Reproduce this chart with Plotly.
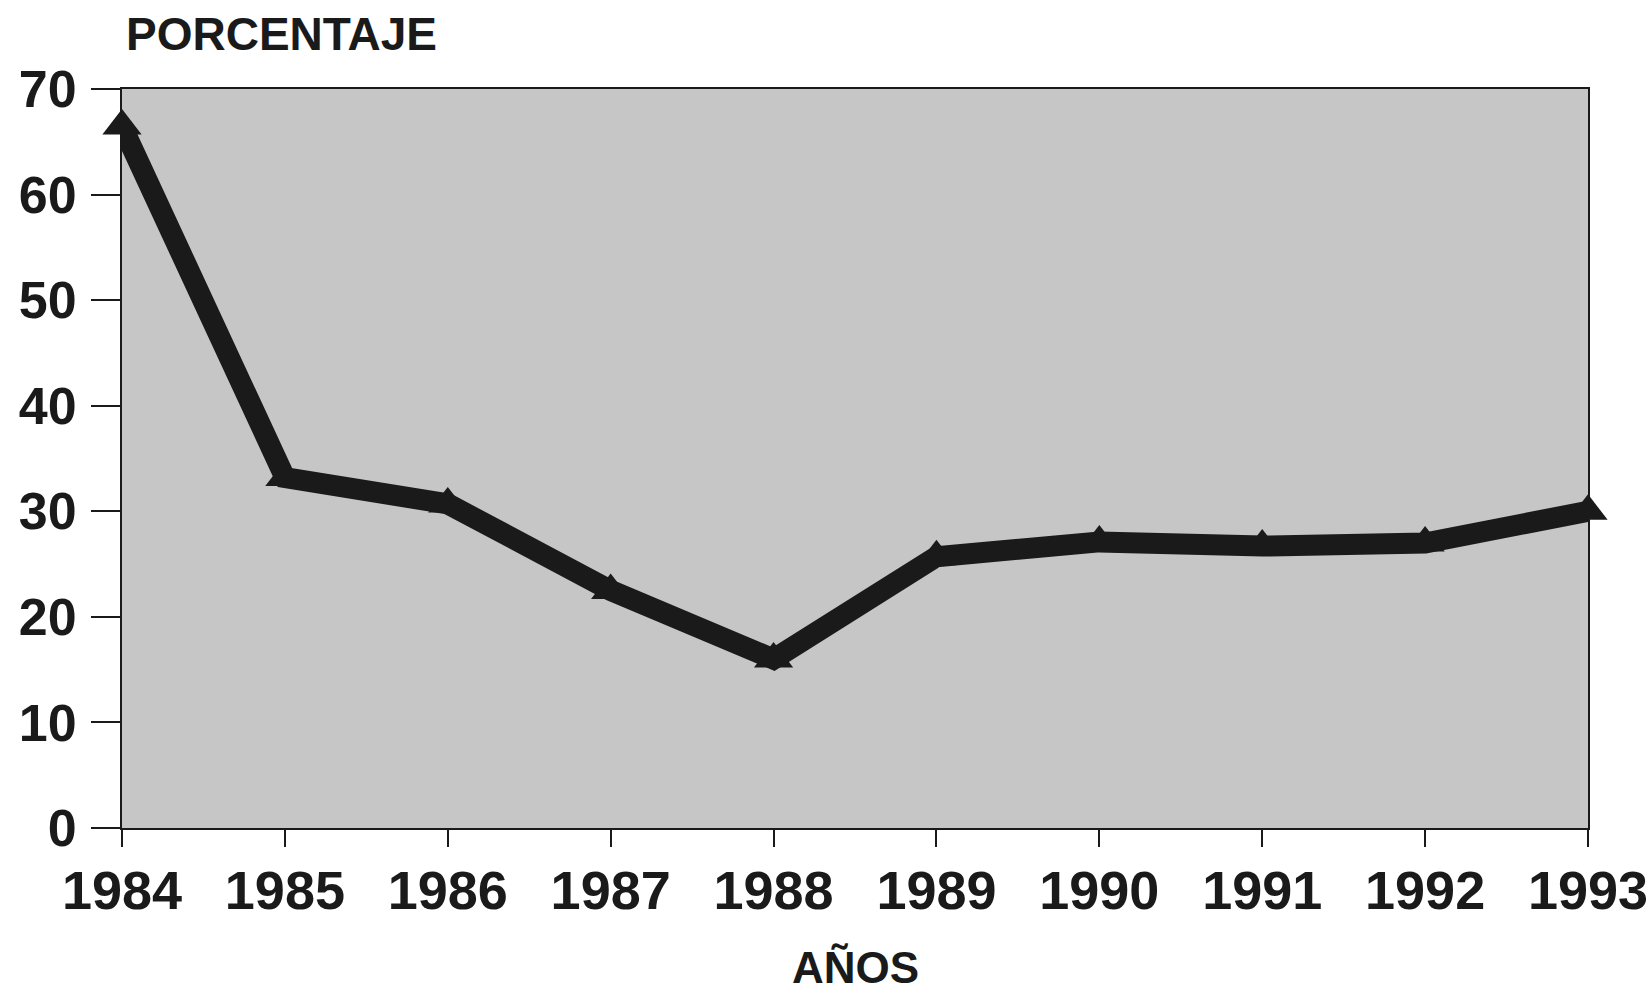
import plotly.graph_objects as go

years = [1984, 1985, 1986, 1987, 1988, 1989, 1990, 1991, 1992, 1993]
porcentaje = [66.5, 33.2, 30.7, 22.5, 16.0, 25.7, 27.1, 26.7, 27.0, 30.0]
y_ticks = [0, 10, 20, 30, 40, 50, 60, 70]

INK = "#1a1a1a"
FONT = "Liberation Sans, Arial, sans-serif"

fig = go.Figure()
fig.add_trace(go.Scatter(
    x=years, y=porcentaje, mode="lines+markers",
    line=dict(color=INK, width=21),
    marker=dict(symbol="triangle-up", size=34, color=INK),
    cliponaxis=False, showlegend=False,
))

fig.update_layout(
    width=1651, height=989,
    margin=dict(l=122, r=63, t=89, b=161),
    paper_bgcolor="white", plot_bgcolor="#c6c6c6",
    font=dict(family=FONT, color=INK),
    xaxis=dict(
        range=[years[0], years[-1]], tickvals=years, ticktext=[str(y) for y in years],
        showgrid=False, zeroline=False, showline=True, linecolor=INK, linewidth=2,
        mirror=True, ticks="outside", ticklen=17, tickwidth=2, tickcolor=INK,
        tickfont=dict(size=54, family=FONT, color=INK, weight="bold"),
        ticklabelstandoff=-3,
        automargin=False, ticklabeloverflow="allow",
    ),
    yaxis=dict(
        range=[0, 70], tickvals=y_ticks,
        showgrid=False, zeroline=False, showline=True, linecolor=INK, linewidth=2,
        mirror=True, ticks="outside", ticklen=29, tickwidth=2, tickcolor=INK,
        tickfont=dict(size=52, family=FONT, color=INK, weight="bold"),
        ticklabelstandoff=4, automargin=False, ticklabeloverflow="allow",
    ),
    annotations=[
        dict(text="PORCENTAJE", xref="paper", yref="paper", x=0, xshift=2, y=1.0, yshift=55,
             xanchor="left", yanchor="middle", showarrow=False,
             font=dict(size=46, family=FONT, color=INK, weight="bold")),
        dict(text="AÑOS", xref="paper", yref="paper", x=0.5, y=0, yshift=-139,
             xanchor="center", yanchor="middle", showarrow=False,
             font=dict(size=44, family=FONT, color=INK, weight="bold")),
    ],
)

fig.write_html(
    "out.html",
    config={"displayModeBar": False},
    post_script="document.body.style.margin='0';document.body.style.overflow='hidden';",
)
